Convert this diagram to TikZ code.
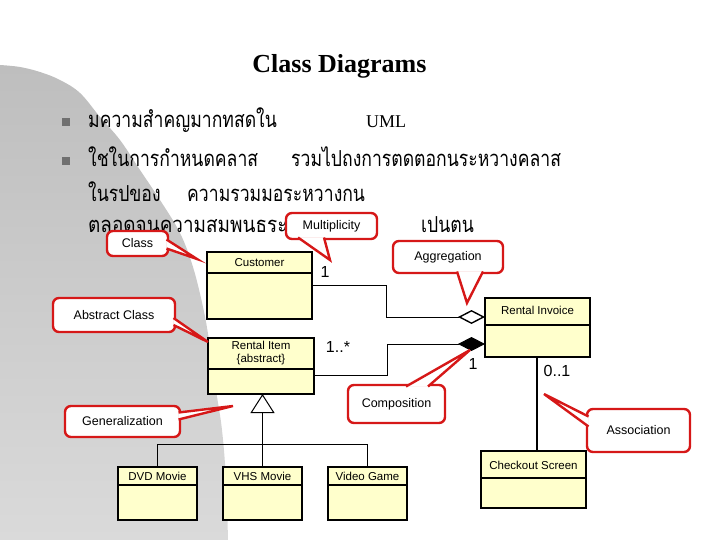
\documentclass[tikz,border=0pt]{standalone}
\usepackage{fontspec}
\setmainfont{Liberation Serif}
\setsansfont{Liberation Sans}
\newfontfamily\thaifont[Script=Thai,FakeStretch=0.80]{Loma}
\usetikzlibrary{arrows.meta,positioning}
\definecolor{classfill}{RGB}{255,255,204}
\definecolor{callred}{RGB}{214,24,24}
\definecolor{bgtop}{RGB}{190,190,190}
\definecolor{bgbottom}{RGB}{218,218,218}
\definecolor{bulletgray}{RGB}{112,112,112}

\begin{document}
\begin{tikzpicture}[x=1pt,y=-1pt]
\tikzstyle{classbox}=[rectangle, draw, fill=classfill, line width=1.6pt, inner sep=0, outer sep=0]
\tikzstyle{classline}=[line width=1.6pt]
\tikzstyle{classname}=[font=\sffamily\fontsize{11.5}{13}\selectfont, align=center, inner sep=0]
\tikzstyle{assoc}=[line width=1pt]
\tikzstyle{mult}=[font=\sffamily\fontsize{16}{18}\selectfont, inner sep=0]
\tikzstyle{callout}=[rectangle, draw=callred, fill=white, line width=2.4pt, rounded corners=6pt,
    inner sep=0, outer sep=0, font=\sffamily\fontsize{12.5}{14}\selectfont]
\tikzstyle{calltail}=[draw=callred, fill=white, line width=2.4pt, line join=miter]
\tikzstyle{thaitext}=[anchor=base west, inner sep=0, font=\thaifont\fontsize{22}{26}\selectfont]
\tikzstyle{bulletsq}=[rectangle, fill=bulletgray, minimum width=8pt, minimum height=8pt, inner sep=0]

\useasboundingbox (0,0) rectangle (720,540);

\shade[top color=bgtop, bottom color=bgbottom] plot[smooth, tension=0.6] coordinates {(0,65) (20,67) (40,72) (60,80)
    (80,93) (100,117) (120,140) (140,170) (160,200) (180,233) (193,267) (203,307) (209,340) (216,390)
    (222,430) (226,480) (228,540)} -- (0,540) -- cycle;

\node[font=\bfseries\fontsize{26}{30}\selectfont, anchor=base] (title) at (339.5,73) {Class Diagrams};

\node[bulletsq] (b1) at (66,122) {};
\node[bulletsq] (b2) at (66,161) {};
\node[thaitext] (l1a) at (88,128) {มความสำคญมากทสดใน};
\node[anchor=base west, inner sep=0, font=\fontsize{18}{20}\selectfont] (l1b) at (366,128) {UML};
\node[thaitext] (l2a) at (88,167) {ใชในการกำหนดคลาส};
\node[thaitext] (l2b) at (291,167) {รวมไปถงการตดตอกนระหวางคลาส};
\node[thaitext] (l3a) at (88,202) {ในรปของ};
\node[thaitext] (l3b) at (187,202) {ความรวมมอระหวางกน};
\node[thaitext, font=\thaifont\fontsize{22}{26}\selectfont\addfontfeature{FakeStretch=0.86}] (l4a) at (88,233) {ตลอดจนความสมพนธระห};
\node[thaitext] (l4b) at (421,233) {เปนตน};

\node[classbox, minimum width=105pt, minimum height=67pt] (cust) at (259.5,285.5) {};
\draw[classline] ([yshift=-21pt]cust.north west) -- ([yshift=-21pt]cust.north east);
\node[classname] (custname) at ([yshift=-10.5pt]cust.north) {Customer};

\node[classbox, minimum width=106pt, minimum height=56pt] (item) at (261,366) {};
\draw[classline] ([yshift=-31pt]item.north west) -- ([yshift=-31pt]item.north east);
\node[classname] (itemname) at ([yshift=-15.5pt]item.north) {Rental Item\\\{abstract\}};

\node[classbox, minimum width=105pt, minimum height=59pt] (invoice) at (537.5,327.5) {};
\draw[classline] ([yshift=-27pt]invoice.north west) -- ([yshift=-27pt]invoice.north east);
\node[classname] (invoicename) at ([yshift=-12pt]invoice.north) {Rental Invoice};

\node[classbox, minimum width=105pt, minimum height=57pt] (screen) at (533.5,479.5) {};
\draw[classline] ([yshift=-27pt]screen.north west) -- ([yshift=-27pt]screen.north east);
\node[classname] (screenname) at ([yshift=-14pt]screen.north) {Checkout Screen};

\foreach \name/\x/\txt in {dvd/157.5/DVD Movie, vhs/262.5/VHS Movie, game/367.5/Video Game}{
  \node[classbox, minimum width=79pt, minimum height=53pt] (\name) at (\x,493.5) {};
  \draw[classline] ([yshift=-18pt]\name.north west) -- ([yshift=-18pt]\name.north east);
  \node[classname] (\name name) at ([yshift=-9pt]\name.north) {\txt};
}

\draw[assoc, -{Diamond[open, length=27pt, width=14pt, line width=1.4pt]}]
    (cust.east) -- ++(74,0) |- ([yshift=10.5pt]invoice.west);
\draw[assoc, -{Diamond[length=27pt, width=14pt]}]
    ([yshift=-9pt]item.east) -- ++(73,0) |- ([yshift=-16.5pt]invoice.west);
\draw[line width=2pt] ([xshift=-0.5pt]invoice.south) -- ([xshift=-0.5pt]invoice.south |- screen.north);
\draw[assoc, -{Triangle[open, length=19pt, width=24pt]}] (vhs.north) -- (vhs.north |- item.south);
\draw[assoc] (dvd.north) -- ++(0,-23) -| (game.north);

\node[mult] (m1) at (325,271.5) {1};
\node[mult] (m2) at (338,347) {1..*};
\node[mult] (m3) at (473,364) {1};
\node[mult] (m4) at (557,371) {0..1};

\node[callout, minimum width=91pt, minimum height=26pt] (multc) at (331.5,226) {Multiplicity};
\coordinate (multtip) at (330,260);
\filldraw[calltail] ([xshift=-33.5pt,yshift=1.5pt]multc.south) -- (multtip) -- ([xshift=-7.5pt,yshift=1.5pt]multc.south);

\node[callout, minimum width=61pt, minimum height=25pt] (classc) at (137.5,243.5) {Class};
\coordinate (classtip) at (197,259);
\filldraw[calltail] ([xshift=-1.5pt,yshift=4pt]classc.east) -- (classtip) -- ([xshift=-1.5pt,yshift=-5pt]classc.east);

\node[callout, minimum width=110pt, minimum height=32pt] (aggc) at (448,257) {Aggregation};
\coordinate (aggtip) at (467,303);
\filldraw[calltail] ([xshift=9pt,yshift=1.5pt]aggc.south) -- (aggtip) -- ([xshift=35pt,yshift=1.5pt]aggc.south);

\node[callout, minimum width=122pt, minimum height=34pt] (absc) at (114,315) {Abstract Class};
\coordinate (abstip) at (208,342);
\filldraw[calltail] ([xshift=-1.5pt,yshift=-3pt]absc.east) -- (abstip) -- ([xshift=-1.5pt,yshift=-10pt]absc.east);

\node[callout, minimum width=115pt, minimum height=31pt] (genc) at (122.5,421.5) {Generalization};
\coordinate (gentip) at (233,406);
\filldraw[calltail] ([xshift=-1.5pt,yshift=9pt]genc.east) -- (gentip) -- ([xshift=-1.5pt,yshift=2pt]genc.east);

\node[callout, minimum width=97pt, minimum height=38pt] (compc) at (396.5,404) {Composition};
\coordinate (comptip) at (470,350);
\filldraw[calltail] ([xshift=9.5pt,yshift=-1.5pt]compc.north) -- (comptip) -- ([xshift=31.5pt,yshift=-1.5pt]compc.north);

\node[callout, minimum width=103pt, minimum height=43pt] (assocc) at (638.5,430.5) {Association};
\coordinate (assoctip) at (544,394);
\filldraw[calltail] ([xshift=1.5pt,yshift=14pt]assocc.west) -- (assoctip) -- ([xshift=1.5pt,yshift=4pt]assocc.west);

\end{tikzpicture}
\end{document}
